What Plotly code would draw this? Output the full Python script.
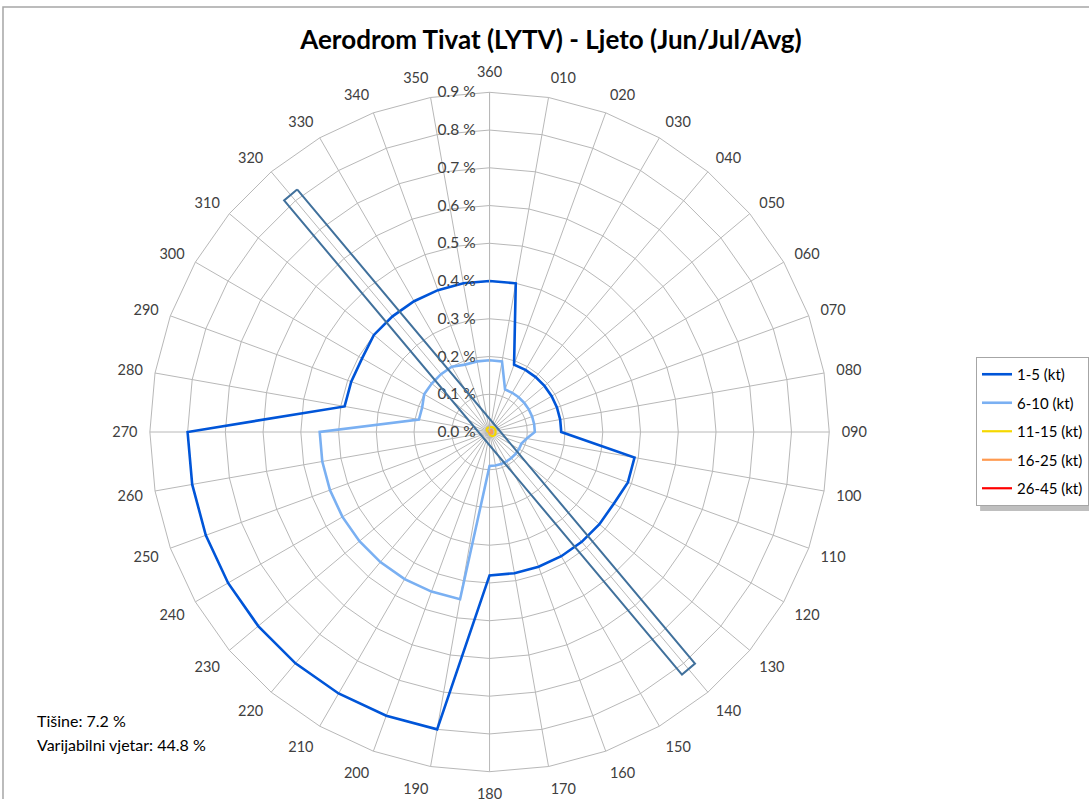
import math
import plotly.graph_objects as go

# ---------------- data ----------------
directions = ["360", "010", "020", "030", "040", "050", "060", "070", "080",
              "090", "100", "110", "120", "130", "140", "150", "160", "170",
              "180", "190", "200", "210", "220", "230", "240", "250", "260",
              "270", "280", "290", "300", "310", "320", "330", "340", "350"]

speed_1_5 = [0.40, 0.40, 0.19, 0.19, 0.19, 0.19, 0.19, 0.19, 0.19,
             0.19, 0.39, 0.39, 0.38, 0.38, 0.38, 0.38, 0.38, 0.38,
             0.38, 0.80, 0.80, 0.80, 0.80, 0.80, 0.80, 0.80, 0.80,
             0.80, 0.39, 0.39, 0.39, 0.40, 0.40, 0.40, 0.40, 0.40]

speed_6_10 = [0.19, 0.19, 0.12, 0.12, 0.12, 0.12, 0.12, 0.12, 0.12,
              0.12, 0.10, 0.09, 0.09, 0.09, 0.09, 0.09, 0.09, 0.09,
              0.09, 0.45, 0.45, 0.45, 0.45, 0.45, 0.45, 0.45, 0.45,
              0.45, 0.19, 0.19, 0.20, 0.20, 0.20, 0.20, 0.19, 0.19]

speed_11_15 = [0.012, 0.013, 0.014, 0.015, 0.016, 0.016, 0.016, 0.016, 0.016,
               0.016, 0.016, 0.016, 0.016, 0.015, 0.014, 0.012, 0.010, 0.008,
               0.006, 0.004, 0.003, 0.002, 0.002, 0.002, 0.002, 0.002, 0.002,
               0.003, 0.004, 0.006, 0.008, 0.010, 0.011, 0.012, 0.012, 0.012]

speed_16_25 = [0.002, 0.003, 0.004, 0.006, 0.007, 0.007, 0.007, 0.007, 0.007,
               0.007, 0.007, 0.007, 0.006, 0.005, 0.004, 0.003, 0.002, 0.001,
               0.001, 0.001, 0.001, 0.001, 0.001, 0.001, 0.001, 0.001, 0.001,
               0.001, 0.001, 0.001, 0.001, 0.001, 0.001, 0.001, 0.001, 0.002]

speed_26_45 = [0.0] * 36

series_names = ["1-5 (kt)", "6-10 (kt)", "11-15 (kt)", "16-25 (kt)", "26-45 (kt)"]
series_values = [speed_1_5, speed_6_10, speed_11_15, speed_16_25, speed_26_45]
series_colors = ["#0055D8", "#7AB0F2", "#F5D800", "#FF9A50", "#FF0000"]

radial_ticks = [0.0, 0.1, 0.2, 0.3, 0.4, 0.5, 0.6, 0.7, 0.8, 0.9]
radial_labels = [f"{v:.1f} %" for v in radial_ticks]

# runway 14/32 (heading, half length in %, width in %)
runway_heading = 320
runway_half_length = 0.82
runway_width = 0.045

title_text = "Aerodrom Tivat (LYTV) - Ljeto (Jun/Jul/Avg)"
calm_text = "Tišine: 7.2 %"
variable_text = "Varijabilni vjetar: 44.8 %"

# ---------------- figure ----------------
W, H = 1089, 799
cx, cy, R = 490, 432, 340
dom_x = [(cx - R) / W, (cx + R) / W]
dom_y = [(H - cy - R) / H, (H - cy + R) / H]

FONT = "Lato"
fig = go.Figure()

for name, vals, col in zip(series_names, series_values, series_colors):
    lw = 2.6 if name in ("1-5 (kt)", "6-10 (kt)") else 2.2
    fig.add_trace(go.Scatterpolar(
        r=vals + vals[:1], theta=directions + directions[:1],
        mode="lines", name=name, line=dict(color=col, width=lw),
        legendgroup=name, subplot="polar"))

# runway rectangle (overlay polar with numeric angles)
hw = runway_width / 2
rc = math.hypot(runway_half_length, hw)
dlt = math.degrees(math.atan2(hw, runway_half_length))
h1, h2 = runway_heading, (runway_heading + 180) % 360
rw_theta = [h1 + dlt, h2 - dlt, h2 + dlt, h1 - dlt, h1 + dlt]
fig.add_trace(go.Scatterpolar(
    r=[rc] * 5, theta=rw_theta, mode="lines",
    line=dict(color="#41719C", width=2), showlegend=False,
    hoverinfo="skip", subplot="polar2"))

grid_col = "#B8B8B8"
fig.update_layout(
    width=W, height=H,
    margin=dict(l=0, r=0, t=0, b=0),
    paper_bgcolor="white",
    font=dict(family=FONT, color="#404040"),
    title=dict(text="<b>" + title_text + "</b>", x=551 / W, xanchor="center",
               y=1 - 40 / H, yanchor="middle",
               font=dict(family=FONT, size=26, color="#000000")),
    polar=dict(
        domain=dict(x=dom_x, y=dom_y),
        gridshape="linear",
        bgcolor="rgba(0,0,0,0)",
        angularaxis=dict(type="category", categoryarray=directions,
                         direction="clockwise", rotation=90,
                         showgrid=True, gridcolor=grid_col, gridwidth=1,
                         showline=True, linecolor=grid_col, linewidth=1,
                         ticks="outside", ticklen=9,
                         tickcolor="rgba(0,0,0,0)",
                         tickfont=dict(size=14.5, color="#404040",
                                       family=FONT)),
        radialaxis=dict(range=[0, 0.9], tickvals=radial_ticks,
                        ticktext=radial_labels,
                        angle=90, tickangle=90, side="counterclockwise",
                        showgrid=True, gridcolor=grid_col, gridwidth=1,
                        showline=True, linecolor=grid_col, linewidth=1,
                        ticks="outside", ticklen=8,
                        tickcolor="rgba(0,0,0,0)",
                        tickfont=dict(size=15.5, color="#404040",
                                      family=FONT)),
    ),
    polar2=dict(
        domain=dict(x=dom_x, y=dom_y),
        bgcolor="rgba(0,0,0,0)",
        angularaxis=dict(direction="clockwise", rotation=90, visible=False,
                         showgrid=False),
        radialaxis=dict(range=[0, 0.9], visible=False, showgrid=False),
    ),
    legend=dict(x=977 / W, xanchor="left", y=1 - 357 / H, yanchor="top",
                bordercolor="#A6A6A6", borderwidth=1, bgcolor="white",
                tracegroupgap=6, itemwidth=30,
                font=dict(family=FONT, size=15, color="#000000")),
    showlegend=True,
)

fig.add_annotation(text=calm_text, x=35 / W, y=1 - 720 / H, xref="paper",
                   yref="paper", xanchor="left", yanchor="middle",
                   showarrow=False, font=dict(family=FONT, size=16, color="#000000"))
fig.add_annotation(text=variable_text, x=35 / W, y=1 - 744 / H, xref="paper",
                   yref="paper", xanchor="left", yanchor="middle",
                   showarrow=False, font=dict(family=FONT, size=16, color="#000000"))

# chart-area frame
fig.add_shape(type="rect", xref="paper", yref="paper",
              x0=3 / W, x1=1 + 10 / W, y0=-10 / H, y1=1 - 7 / H,
              line=dict(color="#A6A6A6", width=1.5), layer="below")
# legend drop shadow
fig.add_shape(type="rect", xref="paper", yref="paper",
              x0=981 / W, x1=1092 / W, y0=1 - 511 / H, y1=1 - 362 / H,
              line=dict(width=0), fillcolor="rgba(0,0,0,0.25)", layer="above")

fig.write_html("out.html", config={"displayModeBar": False},
               post_script="document.body.style.margin='0';")
